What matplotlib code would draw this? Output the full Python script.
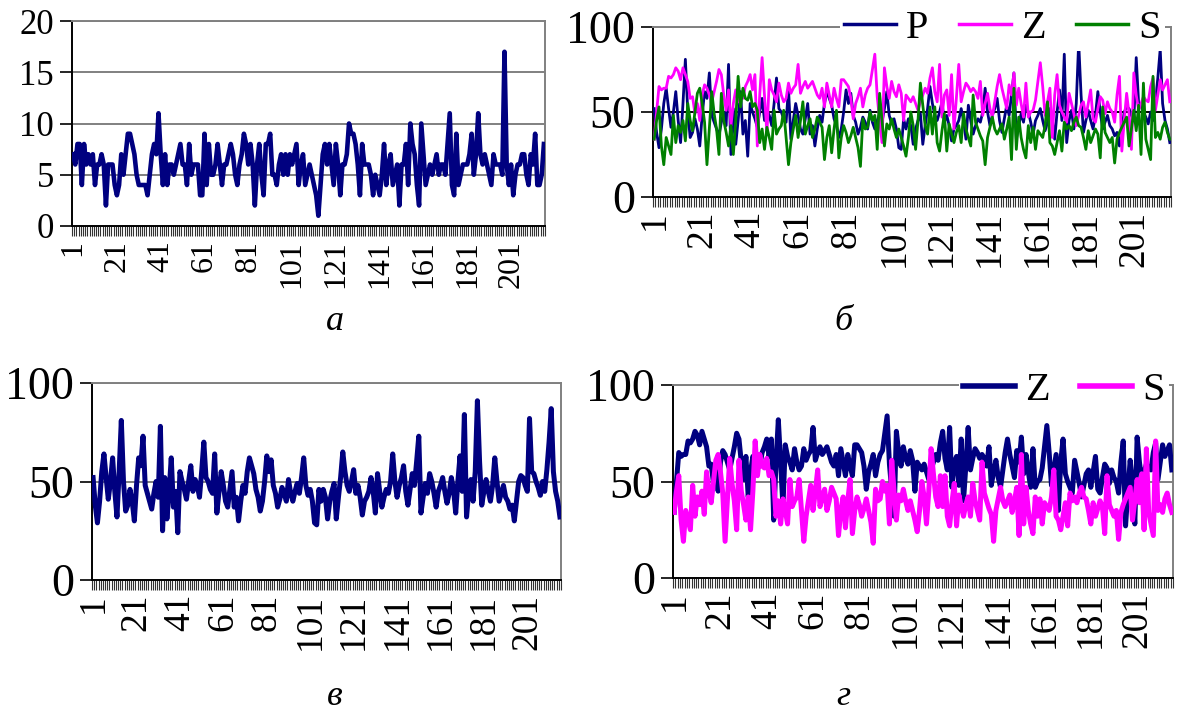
import matplotlib
matplotlib.use("Agg")
import matplotlib.pyplot as plt
from matplotlib.lines import Line2D
import numpy as np

plt.rcParams['font.family'] = ['Liberation Serif', 'DejaVu Serif']

# ---------------- data ----------------
counts_a = [7, 6, 8, 8, 4, 8, 6, 7, 6, 7,
            4, 6, 6, 7, 6, 2, 6, 6, 6, 4,
            3, 4, 7, 5, 7, 9, 9, 8, 7, 5,
            4, 4, 4, 4, 3, 5, 7, 8, 7, 11,
            7, 4, 7, 4, 6, 6, 5, 6, 7, 8,
            6, 6, 4, 8, 5, 6, 6, 6, 3, 3,
            9, 4, 8, 5, 5, 6, 8, 6, 4, 6,
            6, 7, 8, 7, 5, 4, 6, 7, 9, 8,
            6, 8, 6, 2, 6, 8, 5, 3, 8, 8,
            9, 5, 5, 4, 6, 7, 5, 7, 5, 7,
            6, 7, 8, 4, 6, 7, 4, 5, 6, 5,
            4, 3, 1, 4, 7, 8, 6, 8, 6, 4,
            8, 6, 3, 6, 6, 7, 10, 9, 9, 8,
            6, 3, 8, 6, 6, 6, 5, 3, 5, 4,
            3, 5, 8, 4, 6, 7, 4, 5, 6, 2,
            6, 6, 8, 4, 10, 8, 7, 4, 2, 10,
            7, 4, 5, 6, 5, 6, 7, 5, 6, 6,
            5, 8, 11, 4, 3, 9, 4, 5, 6, 6,
            6, 7, 9, 5, 7, 11, 7, 6, 7, 6,
            5, 4, 7, 6, 6, 6, 5, 17, 6, 4,
            6, 3, 5, 6, 6, 7, 7, 5, 4, 7,
            6, 9, 4, 4, 5, 8]

series_P = [52, 38, 29, 40, 55, 64, 52, 41, 50, 62,
            45, 32, 55, 81, 50, 35, 38, 46, 40, 30,
            48, 62, 58, 73, 48, 44, 40, 36, 44, 50,
            42, 78, 25, 52, 31, 45, 62, 37, 45, 24,
            55, 50, 46, 41, 50, 58, 45, 51, 48, 42,
            55, 70, 52, 50, 46, 44, 64, 34, 45, 55,
            48, 40, 37, 46, 55, 37, 42, 30, 40, 48,
            44, 55, 62, 58, 54, 46, 42, 35, 40, 50,
            63, 55, 61, 48, 44, 37, 41, 47, 44, 40,
            51, 44, 40, 45, 49, 44, 52, 62, 48, 43,
            46, 40, 29, 28, 46, 40, 46, 42, 31, 40,
            45, 49, 31, 42, 52, 65, 55, 48, 45, 50,
            56, 44, 48, 42, 33, 40, 42, 45, 52, 45,
            34, 54, 45, 37, 42, 46, 44, 50, 64, 50,
            42, 48, 52, 58, 45, 38, 46, 54, 48, 60,
            73, 34, 42, 49, 44, 54, 50, 44, 37, 45,
            48, 52, 45, 39, 44, 52, 46, 34, 50, 63,
            45, 84, 32, 45, 51, 40, 55, 91, 60, 38,
            45, 51, 45, 40, 48, 62, 50, 40, 44, 48,
            42, 40, 36, 38, 30, 40, 50, 53, 52, 48,
            45, 82, 55, 54, 50, 47, 43, 50, 45, 56,
            70, 87, 55, 45, 40, 32]

series_Z = [34, 50, 65, 63, 64, 64, 71, 70, 72, 76,
            74, 69, 76, 72, 68, 58, 59, 49, 55, 45,
            60, 66, 64, 60, 56, 62, 68, 75, 72, 60,
            51, 63, 42, 55, 63, 56, 60, 58, 65, 68,
            72, 63, 72, 30, 60, 82, 59, 37, 69, 63,
            60, 56, 67, 60, 56, 58, 67, 61, 64, 66,
            78, 61, 65, 68, 64, 66, 68, 64, 60, 58,
            64, 53, 67, 60, 53, 64, 58, 53, 69, 69,
            67, 65, 58, 46, 55, 59, 64, 53, 60, 64,
            66, 75, 84, 59, 45, 32, 76, 65, 58, 68,
            62, 59, 66, 61, 45, 60, 58, 56, 59, 55,
            51, 56, 60, 64, 61, 70, 76, 62, 56, 78,
            47, 60, 63, 48, 72, 40, 58, 78, 56, 62,
            67, 65, 62, 64, 62, 58, 68, 48, 55, 61,
            52, 47, 56, 65, 72, 64, 58, 52, 66, 60,
            73, 54, 64, 55, 47, 67, 47, 50, 51, 57,
            68, 79, 65, 48, 56, 64, 35, 60, 72, 54,
            50, 47, 44, 61, 55, 49, 42, 48, 54, 56,
            47, 55, 63, 46, 44, 52, 59, 57, 49, 56,
            52, 50, 44, 60, 71, 27, 45, 61, 49, 28,
            73, 60, 51, 55, 59, 57, 56, 65, 70, 51,
            60, 69, 63, 66, 69, 56]

series_S = [34, 45, 53, 30, 19, 35, 30, 25, 48, 32,
            42, 38, 45, 33, 55, 45, 39, 50, 61, 64,
            55, 44, 19, 41, 62, 49, 40, 25, 61, 45,
            38, 30, 42, 25, 45, 71, 53, 64, 58, 57,
            62, 53, 55, 51, 32, 40, 28, 41, 35, 28,
            51, 37, 40, 42, 51, 35, 19, 32, 40, 48,
            35, 45, 56, 37, 42, 46, 35, 40, 47, 44,
            41, 22, 35, 42, 26, 40, 51, 23, 35, 42,
            38, 32, 36, 41, 35, 29, 18, 46, 40, 41,
            50, 45, 48, 28, 61, 45, 30, 43, 40, 46,
            40, 35, 40, 35, 30, 24, 35, 50, 42, 28,
            45, 67, 54, 42, 37, 53, 37, 53, 32, 27,
            39, 49, 27, 43, 37, 32, 38, 42, 32, 49,
            40, 35, 30, 60, 44, 40, 36, 33, 19, 35,
            41, 47, 40, 37, 40, 43, 34, 40, 47, 22,
            64, 28, 47, 35, 28, 23, 42, 32, 41, 28,
            39, 37, 35, 42, 56, 32, 30, 25, 32, 39,
            27, 44, 40, 42, 39, 44, 47, 42, 41, 35,
            28, 39, 32, 36, 40, 37, 23, 53, 38, 35,
            32, 35, 20, 34, 38, 41, 44, 47, 30, 40,
            51, 39, 54, 25, 67, 34, 28, 22, 71, 35,
            38, 34, 41, 44, 38, 34]

tick_labels = ['1', '21', '41', '61', '81', '101', '121', '141', '161', '181', '201']
captions = ['а', 'б', 'в', 'г']

NAVY = '#000080'
MAG = '#FF00FF'
GREEN = '#008000'
GRID = '#808080'

W, H = 1177, 714
fig = plt.figure(figsize=(W / 100, H / 100), dpi=100)


def px_axes(left, right, top, bottom):
    return fig.add_axes([left / W, 1 - bottom / H, (right - left) / W, (bottom - top) / H])


def style_axes(ax, n, ymax, yticks, ysize, xsize, grid_colors):
    ax.set_xlim(0.5, n + 0.5)
    ax.set_ylim(0, ymax)
    ax.set_yticks(yticks)
    ax.set_yticklabels([str(v) for v in yticks], fontsize=ysize)
    for v, c in zip(yticks[1:], grid_colors):
        ax.axhline(v, color=c, lw=1.4, zorder=1)
    # category boundaries as minor ticks, labels at centers
    ax.set_xticks(np.arange(0.5, n + 1.0, 1.0), minor=True)
    centers = [int(t) for t in tick_labels]
    ax.set_xticks(centers)
    ax.set_xticklabels(tick_labels, rotation=90, fontsize=xsize, va='top', ha='center')
    ax.tick_params(axis='x', which='minor', length=7, width=0.8, color='#333333', direction='out')
    ax.tick_params(axis='x', which='major', length=0, pad=10)
    ax.tick_params(axis='y', which='major', length=9, width=1.2, color='black', direction='out', pad=4)
    for s in ('top', 'right'):
        ax.spines[s].set_color(GRID)
        ax.spines[s].set_linewidth(1.4)
    for s in ('left', 'bottom'):
        ax.spines[s].set_color('black')
        ax.spines[s].set_linewidth(1.4)


LEG_KW = dict(fontsize=29, frameon=True, facecolor='white', edgecolor='none', framealpha=1,
              handlelength=1.3, handletextpad=0.25, columnspacing=0.75, borderpad=0.1,
              fancybox=False)

# panel a
xa = np.arange(1, len(counts_a) + 1)
ax_a = px_axes(72, 545, 21, 226)
ax_a.plot(xa, counts_a, color=NAVY, lw=3.3, zorder=3, solid_joinstyle='round')
style_axes(ax_a, len(counts_a), 20, [0, 5, 10, 15, 20], 25, 23, [GRID] * 4)

# panel b
xb = np.arange(1, len(series_P) + 1)
ax_b = px_axes(653, 1171, 27, 197)
ax_b.plot(xb, series_P, color=NAVY, lw=2.0, zorder=3, label='P')
ax_b.plot(xb, series_Z, color=MAG, lw=2.0, zorder=3, label='Z')
ax_b.plot(xb, series_S, color=GREEN, lw=2.0, zorder=3, label='S')
style_axes(ax_b, len(series_P), 100, [0, 50, 100], 33, 27, ['black', GRID])
leg_b = fig.legend(handles=[Line2D([], [], color=NAVY, lw=2.5, label='P'),
                            Line2D([], [], color=MAG, lw=2.5, label='Z'),
                            Line2D([], [], color=GREEN, lw=2.5, label='S')],
                   loc='upper right', bbox_to_anchor=(1185 / W, 1 - (-14) / H), ncol=3, **LEG_KW)

# panel c
ax_c = px_axes(92, 561, 383, 580)
ax_c.plot(xb, series_P, color=NAVY, lw=3.6, zorder=3)
style_axes(ax_c, len(series_P), 100, [0, 50, 100], 33, 27, [GRID, GRID])

# panel d
ax_d = px_axes(673, 1173, 385, 578)
ax_d.plot(xb, series_Z, color=NAVY, lw=3.6, zorder=3)
ax_d.plot(xb, series_S, color=MAG, lw=3.6, zorder=3)
style_axes(ax_d, len(series_Z), 100, [0, 50, 100], 33, 27, [GRID, GRID])
leg_d = fig.legend(handles=[Line2D([], [], color=NAVY, lw=4, label='Z'),
                            Line2D([], [], color=MAG, lw=4, label='S')],
                   loc='upper right', bbox_to_anchor=(1189 / W, 1 - 348 / H), ncol=2, **LEG_KW)

# captions
fig.text(335 / W, 1 - 322 / H, captions[0], fontsize=26, style='italic', ha='center', va='center')
fig.text(843 / W, 1 - 322 / H, captions[1], fontsize=26, style='italic', ha='center', va='center')
fig.text(335 / W, 1 - 713 / H, captions[2], fontsize=26, style='italic', ha='center', va='bottom')
fig.text(843 / W, 1 - 713 / H, captions[3], fontsize=26, style='italic', ha='center', va='bottom')

fig.savefig('out.png', dpi=100)
